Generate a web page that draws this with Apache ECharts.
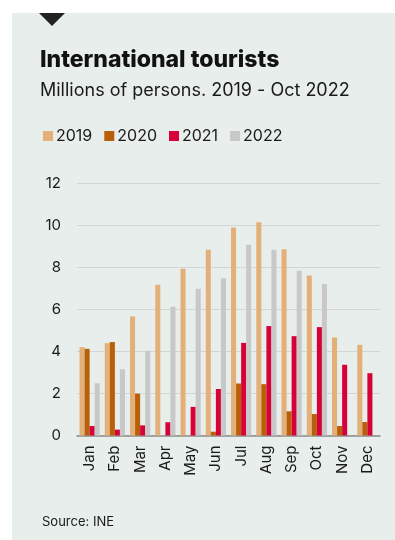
<!DOCTYPE html>
<html>
<head>
<meta charset="utf-8">
<script src="https://cdn.jsdelivr.net/npm/echarts@6/dist/echarts.min.js"></script>
<style>
  html, body { margin: 0; padding: 0; background: #ffffff; }
  #chart { width: 395px; height: 540px; }
</style>
</head>
<body>
<div id="chart"></div>
<script>
// Monthly international tourist arrivals, millions of persons
const months = ['Jan', 'Feb', 'Mar', 'Apr', 'May', 'Jun', 'Jul', 'Aug', 'Sep', 'Oct', 'Nov', 'Dec'];
const years = ['2019', '2020', '2021', '2022'];
const tourists2019 = [4.20, 4.39, 5.66, 7.17, 7.93, 8.83, 9.88, 10.13, 8.85, 7.60, 4.66, 4.31];
const tourists2020 = [4.12, 4.44, 1.99, 0.00, 0.00, 0.18, 2.47, 2.44, 1.15, 1.02, 0.45, 0.64];
const tourists2021 = [0.45, 0.28, 0.48, 0.63, 1.36, 2.21, 4.40, 5.20, 4.72, 5.15, 3.36, 2.96];
const tourists2022 = [2.48, 3.15, 4.02, 6.12, 6.98, 7.47, 9.07, 8.83, 7.83, 7.20, null, null];
const yTicks = [0, 2, 4, 6, 8, 10, 12];

const colors = ['#e4b07a', '#b95f08', '#d80038', '#c8c8c8'];
const seriesData = [tourists2019, tourists2020, tourists2021, tourists2022];
const font = 'Inter, "Liberation Sans", sans-serif';

const chart = echarts.init(document.getElementById('chart'), null, { renderer: 'canvas' });

chart.setOption({
  animation: false,
  color: colors,
  graphic: [
    { type: 'rect', z: -10, shape: { x: 12, y: 13, width: 383, height: 527 }, style: { fill: '#e8eeec' } },
    { type: 'polygon', shape: { points: [[39, 13], [65, 13], [52, 26]] }, style: { fill: '#222222' } },
    { type: 'text', left: 40, top: 49, style: { text: 'International tourists', font: '800 23px ' + font, fill: '#111111' } },
    { type: 'text', left: 40, top: 82, style: { text: 'Millions of persons. 2019 - Oct 2022', font: '18px ' + font, fill: '#1a1a1a' } },
    { type: 'text', left: 42, top: 516, style: { text: 'Source: INE', font: '13px ' + font, fill: '#1a1a1a' } }
  ],
  legend: {
    left: 38,
    top: 123,
    itemWidth: 10,
    itemHeight: 10,
    itemGap: 12,
    icon: 'rect',
    textStyle: { fontFamily: font, fontSize: 16, color: '#1a1a1a', padding: [0, 0, 0, -2] },
    data: years
  },
  grid: { left: 77, right: 15, top: 183, bottom: 104.5 },
  xAxis: {
    type: 'category',
    data: months,
    axisLine: { show: true, lineStyle: { color: '#8a8a8a', width: 1.5 } },
    axisTick: { show: false },
    axisLabel: { rotate: 90, fontFamily: font, fontSize: 15, color: '#1a1a1a', margin: 10 }
  },
  yAxis: {
    type: 'value',
    min: yTicks[0],
    max: yTicks[yTicks.length - 1],
    interval: 2,
    axisLine: { show: false },
    axisTick: { show: false },
    splitLine: { lineStyle: { color: '#d3d6d5', width: 1 } },
    axisLabel: { fontFamily: font, fontSize: 15, color: '#1a1a1a', margin: 16 }
  },
  series: years.map((y, i) => ({
    name: y,
    type: 'bar',
    data: seriesData[i],
    barGap: '0%',
    barCategoryGap: '20%',
    itemStyle: { color: colors[i] }
  }))
});
</script>
</body>
</html>
